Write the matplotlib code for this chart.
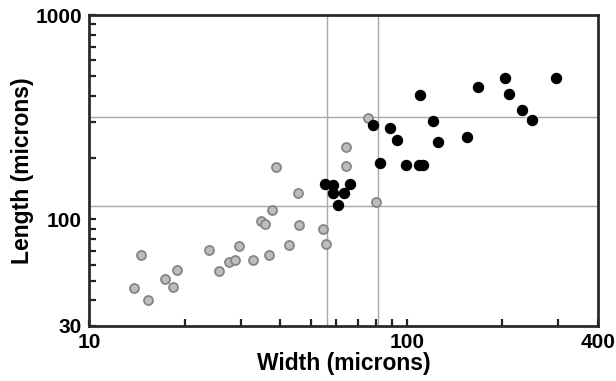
import matplotlib
matplotlib.use("Agg")
import matplotlib.pyplot as plt
from matplotlib.ticker import FixedLocator, NullFormatter

plt.rcParams["font.family"] = ["Liberation Sans", "DejaVu Sans"]

# gray (open) group
gray_width = [13.9, 14.6, 15.3, 17.4, 18.4, 18.9, 23.9, 25.7, 27.5, 28.8, 29.7,
              32.8, 34.8, 35.8, 37.8, 36.9, 42.7, 45.6, 45.7, 54.4, 55.7, 38.8,
              64.4, 64.4, 80.2, 75.4]
gray_length = [45.8, 66.8, 40.0, 51.1, 46.6, 56.7, 70.7, 55.8, 61.7, 62.9, 73.7,
               62.9, 98.0, 94.8, 111.3, 66.8, 74.8, 133.7, 94.2, 89.3, 75.9, 180.8,
               225.8, 182.3, 121.4, 314.0]

# black (filled) group
black_width = [55.4, 58.6, 58.6, 63.6, 66.4, 60.7, 82.6, 78.3, 88.6, 93.2, 99.7,
               109.6, 112.8, 110.1, 120.7, 125.2, 155.1, 167.6, 203.4, 209.9,
               230.7, 247.4, 294.4]
black_length = [149.3, 147.1, 134.0, 134.9, 148.8, 117.0, 188.6, 288.4, 280.7,
                245.2, 184.4, 184.4, 184.4, 404.7, 302.7, 238.1, 253.6, 445.7,
                490.0, 408.9, 342.6, 305.1, 490.0]

# reference lines
vlines = [56, 81]
hlines = [116, 316]

x_major = [10, 100, 400]
x_minor = [20, 30, 40, 50, 60, 70, 80, 90, 200, 300]
y_major = [30, 100, 1000]
y_minor = [40, 50, 60, 70, 80, 90, 200, 300, 400, 500, 600, 700, 800, 900]

fig = plt.figure(figsize=(6.16, 3.81), dpi=100)
ax = fig.add_axes([0.1445, 0.1444, 0.8263, 0.8162])

for v in vlines:
    ax.axvline(v, color="#a8a8a8", lw=1.0, zorder=1)
for h in hlines:
    ax.axhline(h, color="#a8a8a8", lw=1.0, zorder=1)

ax.scatter(gray_width, gray_length, s=42, facecolor="#bdbdbd",
           edgecolor="#858585", linewidths=1.3, zorder=3)
ax.scatter(black_width, black_length, s=52, color="black", zorder=3)

ax.set_xscale("log")
ax.set_yscale("log")
ax.set_xlim(10, 400)
ax.set_ylim(30, 1000)

ax.xaxis.set_major_locator(FixedLocator(x_major))
ax.xaxis.set_minor_locator(FixedLocator(x_minor))
ax.yaxis.set_major_locator(FixedLocator(y_major))
ax.yaxis.set_minor_locator(FixedLocator(y_minor))
ax.set_xticklabels([str(v) for v in x_major])
ax.set_yticklabels([str(v) for v in y_major])
ax.xaxis.set_minor_formatter(NullFormatter())
ax.yaxis.set_minor_formatter(NullFormatter())

ax.tick_params(which="both", direction="in", width=1.6, color="#222222",
               top=False, right=False, length=5)
ax.tick_params(axis="x", which="major", pad=5, labelsize=15)
ax.tick_params(axis="y", which="major", pad=5, labelsize=15)
for lab in ax.get_xticklabels() + ax.get_yticklabels():
    lab.set_fontweight("bold")

for sp in ax.spines.values():
    sp.set_linewidth(2.0)
    sp.set_color("#2a2a2a")

ax.set_xlabel("Width (microns)", fontsize=16.5, fontweight="bold", labelpad=0)
ax.set_ylabel("Length (microns)", fontsize=16.5, fontweight="bold", labelpad=1)

fig.savefig("out.png", dpi=100)
